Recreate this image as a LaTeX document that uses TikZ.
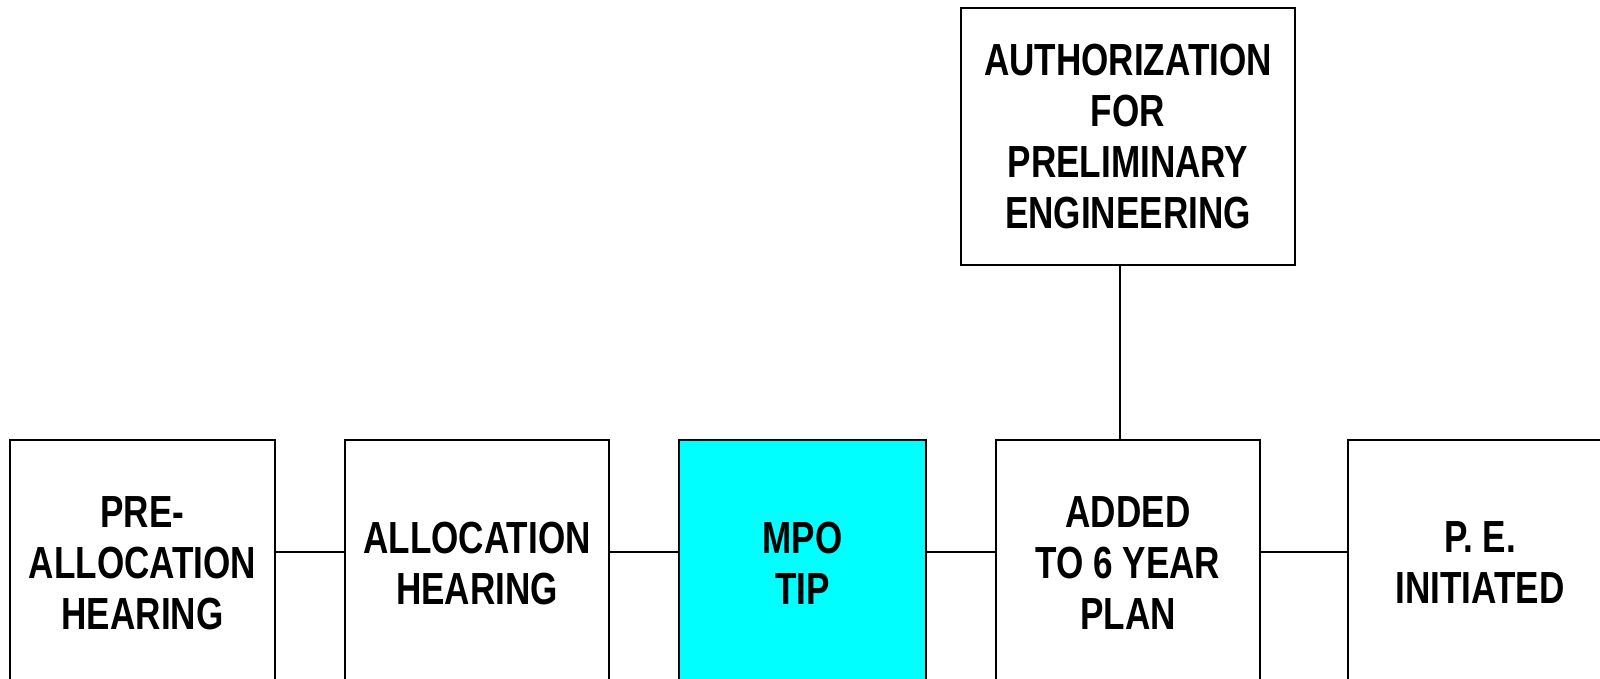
\documentclass[tikz,border=0pt]{standalone}
\usepackage{fontspec}
\setmainfont{Liberation Sans}[FakeStretch=0.78]
\begin{document}
\begin{tikzpicture}[x=1pt,y=-1pt,
  stage/.style={draw=black, line width=1.6pt, fill=white, align=center,
    inner sep=0pt, font=\bfseries\fontsize{45}{51}\selectfont},
  link/.style={draw=black, line width=1.6pt}]
\useasboundingbox (0,0) rectangle (1600,678);
\clip (0,0) rectangle (1600,678);

% process stages along the bottom row
\node[stage, minimum width=265pt, minimum height=246pt] (pre)  at (142.5,563) {PRE-\\ALLOCATION\\HEARING};
\node[stage, minimum width=264pt, minimum height=246pt] (hear) at (477,563) {ALLOCATION\\HEARING};
\node[stage, fill={rgb,255:red,0;green,255;blue,255}, minimum width=247pt, minimum height=246pt] (tip) at (802.5,563) {MPO\\TIP};
\node[stage, minimum width=264pt, minimum height=246pt] (plan) at (1128,563) {ADDED\\TO 6 YEAR\\PLAN};
\node[stage, minimum width=264pt, minimum height=246pt] (pe)   at (1480,563) {P. E.\\INITIATED};

% approval box above the plan stage
\node[stage, minimum width=334pt, minimum height=257pt] (auth) at (1128,136.5) {AUTHORIZATION\\FOR\\PRELIMINARY\\ENGINEERING};

% guide coordinates for the connectors
\coordinate (row) at (0,552);
\coordinate (drop) at (1120,0);

\draw[link] (pre.east |- row) -- (hear.west |- row);
\draw[link] (hear.east |- row) -- (tip.west |- row);
\draw[link] (tip.east |- row) -- (plan.west |- row);
\draw[link] (plan.east |- row) -- (pe.west |- row);
\draw[link] (auth.south -| drop) -- (plan.north -| drop);
\end{tikzpicture}
\end{document}
